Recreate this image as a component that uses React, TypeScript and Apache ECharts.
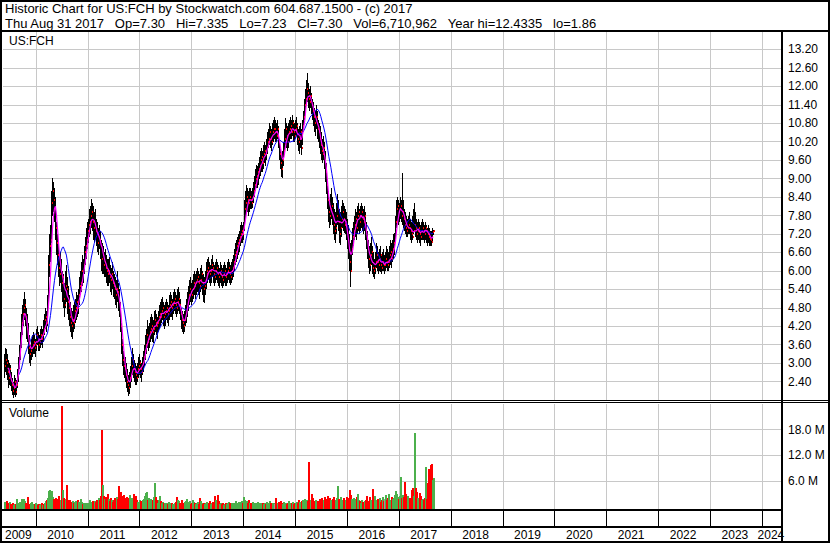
import React, { useEffect, useRef } from 'react';
import * as echarts from 'echarts';

// ---- data (weekly bars, last bar = Thu Aug 31 2017) ----
const lastBarDate = '2017-08-31';

const highs = [3.3,3.5,
3.45,3.3,3.1,3.0,2.95,2.7,2.5,2.4,2.6,2.5,
2.45,2.8,3.2,3.6,4.0,4.6,4.9,5.1,5.32,5.1,
4.8,4.6,4.3,3.9,3.6,3.8,3.9,4.0,3.9,3.8,
4.1,4.2,4.0,3.9,4.1,4.2,4.1,4.3,4.4,4.6,
4.8,4.7,5.2,6.5,7.2,7.5,8.6,9.02,8.9,8.7,
8.4,7.6,7.2,6.9,6.5,6.6,6.4,6.0,5.9,5.6,
6.0,6.2,5.8,5.5,5.2,5.0,4.8,4.7,4.9,5.0,
5.1,5.3,5.2,5.4,5.8,6.0,6.3,6.5,6.4,6.8,
7.1,7.4,7.6,7.7,8.0,8.1,8.34,8.2,8.1,7.9,
8.0,7.7,7.6,7.4,7.5,7.3,7.0,6.9,6.8,6.6,
6.7,6.5,6.4,6.4,6.45,6.2,6.1,6.3,6.0,5.9,
5.8,5.7,6.0,5.6,5.4,5.0,4.3,3.8,3.4,3.2,
3.2,3.0,2.8,2.6,2.7,2.9,3.2,3.5,3.3,3.1,
3.0,2.9,3.0,3.2,3.3,3.1,3.0,3.2,3.4,3.6,
3.9,4.1,4.4,4.2,4.3,4.5,4.6,4.5,4.4,4.7,
4.73,4.6,4.5,4.7,4.9,5.0,5.1,5.15,5.0,4.9,
5.0,5.1,5.0,4.9,5.2,5.3,5.2,5.1,5.3,5.4,
5.3,5.2,5.4,5.48,5.3,5.1,4.8,4.7,4.6,4.7,
4.9,5.1,5.3,5.5,5.7,5.8,5.6,5.7,5.9,6.0,
5.9,6.0,6.1,6.0,5.9,6.1,6.2,6.0,5.9,5.8,
6.0,6.2,6.3,6.4,6.45,6.3,6.2,6.4,6.5,6.3,
6.2,6.3,6.4,6.3,6.2,6.1,6.3,6.2,6.1,6.2,
6.3,6.2,6.1,6.3,6.4,6.3,6.2,6.3,6.4,6.5,
6.7,6.9,7.0,7.1,7.2,7.3,7.5,7.6,7.5,7.6,
8.3,8.6,8.8,8.7,8.6,8.7,8.7,8.6,8.7,8.9,
9.1,9.3,9.44,9.4,9.5,9.7,9.9,10.0,9.9,10.1,
10.2,10.1,10.3,10.5,10.6,10.8,10.7,10.6,10.8,10.9,
11.0,10.9,10.8,10.9,10.7,10.3,10.0,9.8,9.9,10.2,
10.6,10.97,10.8,10.7,10.8,10.9,11.0,10.9,11.07,10.9,
10.8,10.9,11.0,10.8,10.6,10.7,10.8,10.6,10.9,11.2,
11.6,11.9,12.2,12.43,12.1,11.9,12.0,11.8,11.6,11.5,
11.3,11.2,11.4,11.2,10.9,10.8,10.7,10.5,10.3,10.4,
10.2,9.9,9.5,9.0,8.6,8.3,8.5,8.7,8.4,8.2,
8.0,7.9,8.2,8.5,8.3,8.0,7.9,8.1,8.3,8.2,
8.1,8.0,7.9,7.7,7.5,7.2,6.9,7.0,7.4,7.6,
7.8,8.0,7.9,8.1,8.2,8.0,8.1,8.2,8.1,8.0,
8.1,7.9,7.6,7.3,7.0,6.8,6.9,7.1,6.8,6.6,
6.4,6.6,6.9,6.8,6.6,6.7,6.8,6.6,6.5,6.6,
6.7,6.5,6.6,6.8,6.7,6.6,6.8,7.0,6.9,7.0,
7.2,7.23,7.8,8.3,8.4,8.3,8.2,8.4,8.3,9.18,
8.3,8.0,7.9,7.8,7.7,7.8,7.9,7.7,7.6,7.8,
8.0,8.2,7.9,7.7,7.6,7.7,7.6,7.5,7.6,7.7,
7.6,7.5,7.6,7.5,7.4,7.5,7.4,7.3,7.3,7.4,7.335];

const lows = [2.5,2.7,
2.6,2.45,2.2,2.3,2.25,2.1,1.95,1.86,1.95,1.9,
1.95,2.2,2.4,2.8,3.1,3.5,3.9,4.2,4.4,4.2,
3.8,3.7,3.3,3.0,2.9,3.1,3.2,3.3,3.3,3.2,
3.4,3.6,3.4,3.4,3.5,3.6,3.5,3.7,3.8,3.9,
4.1,4.0,4.2,4.8,5.8,6.3,6.9,7.8,7.9,7.6,
7.0,6.5,6.2,5.8,5.5,5.6,5.3,5.0,4.8,4.5,
4.8,5.0,4.6,4.4,4.2,4.0,3.85,3.8,4.0,4.1,
4.3,4.4,4.5,4.6,4.9,5.2,5.3,5.5,5.6,5.9,
6.2,6.4,6.7,6.9,7.1,7.2,7.4,7.3,7.0,6.9,
7.0,6.8,6.6,6.5,6.7,6.4,6.0,5.9,5.9,5.8,
5.8,5.6,5.5,5.5,5.6,5.3,5.2,5.4,5.15,5.1,
4.9,4.8,5.0,4.7,4.5,4.0,3.3,2.9,2.6,2.5,
2.4,2.2,2.05,1.93,2.0,2.2,2.4,2.6,2.5,2.4,
2.3,2.3,2.4,2.5,2.6,2.5,2.4,2.6,2.7,2.9,
3.1,3.3,3.5,3.4,3.5,3.7,3.8,3.7,3.65,3.9,
4.0,3.9,3.8,4.0,4.1,4.2,4.3,4.4,4.2,4.1,
4.2,4.4,4.3,4.2,4.4,4.5,4.5,4.4,4.6,4.7,
4.6,4.5,4.6,4.7,4.6,4.4,4.1,4.0,3.95,4.0,
4.2,4.3,4.5,4.7,4.9,5.0,4.9,5.0,5.1,5.2,
5.1,5.2,5.3,5.2,5.1,5.3,5.4,5.2,5.0,4.95,
5.2,5.4,5.5,5.6,5.7,5.6,5.5,5.6,5.8,5.6,
5.5,5.6,5.7,5.6,5.5,5.45,5.6,5.5,5.44,5.5,
5.6,5.5,5.5,5.6,5.7,5.6,5.55,5.6,5.7,5.8,
6.0,6.2,6.3,6.4,6.5,6.6,6.8,6.9,6.9,7.0,
7.3,7.7,7.9,7.9,7.8,7.9,8.0,8.0,8.05,8.2,
8.4,8.6,8.7,8.7,8.8,9.0,9.1,9.2,9.2,9.3,
9.5,9.4,9.6,9.8,10.0,10.1,10.0,9.9,10.1,10.2,
10.3,10.2,10.2,10.3,10.0,9.6,9.3,9.05,9.02,9.4,
9.8,10.1,10.0,9.9,10.0,10.2,10.3,10.3,10.4,10.2,
10.2,10.3,10.4,10.1,9.9,9.8,10.0,9.77,10.1,10.5,
10.9,11.2,11.4,11.5,11.3,11.2,11.3,11.1,10.9,10.7,
10.5,10.4,10.6,10.3,10.2,10.0,9.8,9.6,9.5,9.6,
9.3,8.9,8.5,8.0,7.6,7.4,7.5,7.7,7.5,7.2,
7.0,6.9,7.2,7.5,7.3,6.9,6.84,7.1,7.4,7.3,
7.23,7.2,7.0,6.7,6.4,6.0,5.47,6.0,6.5,6.8,
7.0,7.1,7.0,7.2,7.3,7.2,7.3,7.4,7.3,7.2,
7.3,7.0,6.7,6.4,6.1,5.9,6.0,6.2,5.9,5.8,
5.73,5.9,6.1,6.0,5.9,6.0,6.1,5.95,5.9,6.0,
6.0,5.9,6.0,6.1,6.0,6.0,6.1,6.2,6.1,6.3,
6.4,6.5,6.9,7.4,7.6,7.5,7.6,7.7,7.6,7.5,
7.4,7.3,7.2,7.1,7.1,7.2,7.2,7.0,6.9,7.0,
7.2,7.3,7.1,7.0,6.9,7.0,6.9,6.8,7.0,7.0,
7.0,6.9,7.0,6.9,6.8,6.9,6.8,6.8,6.8,6.9,7.15];

const closes = [2.9,3.1,
3.0,2.7,2.5,2.8,2.45,2.3,2.1,2.2,2.4,2.05,
2.3,2.6,3.0,3.4,3.8,4.3,4.6,4.8,4.9,4.5,
4.1,3.9,3.5,3.3,3.4,3.5,3.6,3.7,3.5,3.6,
3.9,3.8,3.6,3.7,3.9,3.8,3.9,4.1,4.0,4.4,
4.5,4.3,4.9,6.2,6.8,7.0,8.2,8.6,8.3,8.0,
7.4,6.9,6.5,6.1,5.9,6.0,5.6,5.8,5.1,4.9,
5.5,5.4,5.0,4.8,4.5,4.3,4.2,4.4,4.3,4.7,
4.8,5.0,4.8,5.2,5.5,5.6,6.0,5.9,6.2,6.6,
6.8,7.0,7.3,7.5,7.6,7.8,7.9,7.6,7.4,7.5,
7.3,7.2,6.9,7.1,7.0,6.8,6.4,6.5,6.2,6.3,
6.1,6.0,5.9,6.0,5.8,5.7,5.9,5.6,5.5,5.4,
5.2,5.4,5.3,5.0,4.8,4.2,3.6,3.1,2.9,2.8,
2.6,2.4,2.3,2.2,2.5,2.6,2.9,3.1,2.8,2.7,
2.6,2.5,2.8,2.9,3.0,2.8,2.7,3.0,3.2,3.4,
3.6,3.9,3.7,3.8,4.0,4.1,4.2,4.0,4.1,4.4,
4.3,4.2,4.3,4.5,4.6,4.5,4.7,4.8,4.5,4.6,
4.7,4.8,4.6,4.7,4.9,5.0,4.8,4.9,5.0,5.1,
4.9,4.8,5.0,5.1,4.9,4.6,4.4,4.3,4.2,4.4,
4.6,4.8,5.0,5.2,5.4,5.3,5.2,5.4,5.6,5.5,
5.6,5.7,5.8,5.6,5.5,5.7,5.9,5.6,5.4,5.5,
5.7,5.9,6.0,6.1,6.0,5.9,6.0,6.2,6.1,5.9,
5.8,6.0,6.1,5.9,5.8,5.9,6.0,5.8,5.7,5.9,
6.0,5.8,5.9,6.0,6.1,5.9,5.8,6.0,6.1,6.3,
6.5,6.6,6.8,6.9,7.0,7.1,7.2,7.3,7.2,7.4,
8.0,8.2,8.4,8.3,8.2,8.4,8.3,8.2,8.4,8.6,
8.8,9.0,9.1,9.2,9.3,9.4,9.6,9.7,9.5,9.8,
9.9,9.8,10.0,10.2,10.3,10.5,10.3,10.2,10.5,10.6,
10.6,10.5,10.4,10.6,10.2,9.8,9.5,9.3,9.6,9.9,
10.3,10.6,10.4,10.2,10.5,10.6,10.7,10.5,10.8,10.5,
10.4,10.6,10.7,10.3,10.2,10.3,10.5,10.0,10.7,11.0,
11.4,11.6,11.9,11.8,11.6,11.5,11.7,11.4,11.2,11.0,
10.8,10.9,11.0,10.6,10.5,10.3,10.1,9.9,9.8,10.0,
9.6,9.2,8.8,8.3,7.9,7.8,8.0,8.1,7.8,7.5,
7.3,7.4,7.8,8.0,7.6,7.2,7.4,7.7,7.9,7.7,
7.5,7.6,7.3,7.0,6.7,6.3,6.0,6.7,7.1,7.3,
7.5,7.7,7.4,7.8,7.9,7.6,7.8,7.9,7.7,7.6,
7.8,7.3,7.0,6.7,6.4,6.2,6.5,6.6,6.1,6.0,
6.1,6.3,6.5,6.3,6.2,6.4,6.5,6.2,6.1,6.3,
6.2,6.2,6.4,6.3,6.2,6.3,6.5,6.6,6.4,6.7,
6.9,7.0,7.6,8.0,8.1,7.9,8.0,8.1,7.8,7.9,
7.7,7.5,7.4,7.3,7.4,7.5,7.4,7.3,7.2,7.1,
7.3,7.5,7.4,7.2,7.3,7.4,7.2,7.1,7.3,7.4,
7.3,7.2,7.4,7.3,7.2,7.1,7.05,7.0,6.95,7.25,7.30];

// weekly volume, millions of shares
const volumesM = [1.0,0.8,
1.2,0.8,0.6,1.0,0.5,0.4,0.7,0.3,0.6,0.5,
1.8,0.8,0.6,1.1,0.9,1.7,0.7,1.8,1.2,0.9,
0.6,2.2,0.5,0.4,0.7,1.0,0.6,0.4,0.5,0.9,
0.5,0.4,0.6,0.3,0.5,0.7,0.4,0.6,0.5,0.8,
1.2,1.5,2.0,3.5,3.8,2.5,3.6,2.2,1.8,1.5,
2.0,1.4,1.8,2.4,1.2,1.6,23.5,3.8,2.0,1.5,
1.8,4.9,1.4,1.2,1.6,1.1,0.9,1.3,0.8,1.0,
1.2,0.7,1.5,1.0,0.8,1.7,1.1,0.6,0.9,0.7,
0.5,0.9,0.6,0.8,1.4,1.0,0.7,1.2,0.9,1.3,
1.0,1.5,1.2,2.0,1.6,2.4,17.8,5.1,2.5,1.8,
2.2,1.5,3.0,1.8,1.2,2.0,1.4,1.1,1.6,1.9,
1.3,2.1,1.7,4.7,2.6,3.3,2.4,1.8,2.7,2.0,
1.8,2.3,1.5,2.0,2.6,1.4,1.9,1.6,2.8,1.2,
2.4,1.5,1.1,0.8,1.6,1.2,0.9,1.4,1.8,2.5,
3.2,3.4,1.5,2.0,1.2,1.8,1.0,1.4,2.2,5.6,
2.1,1.4,0.9,1.6,2.5,1.2,0.8,1.1,0.7,0.9,
0.6,0.8,0.5,1.0,0.7,0.6,0.9,0.5,0.4,0.8,
1.1,2.3,1.6,1.2,0.9,0.7,1.4,0.8,0.6,1.0,
1.3,1.7,1.0,0.8,1.2,0.6,0.9,1.5,1.1,0.7,
0.5,0.8,1.0,0.6,2.0,1.2,0.7,0.5,0.9,0.6,
0.8,1.1,0.7,0.5,0.9,1.3,0.6,0.8,1.0,0.7,
2.5,1.4,0.9,2.6,1.2,0.6,0.8,0.5,0.7,0.4,
0.6,0.9,0.5,0.7,1.0,0.8,0.6,0.9,0.5,0.7,
0.8,1.2,0.9,0.6,1.1,0.7,1.0,1.3,0.8,2.2,
1.5,1.0,1.2,0.8,1.4,0.9,0.7,0.6,1.0,0.8,
0.5,0.9,0.7,1.1,0.6,0.8,0.5,0.7,0.9,0.6,
0.8,0.6,1.0,0.7,0.5,1.2,0.8,0.6,0.9,0.7,
0.6,2.0,0.9,0.7,1.1,0.8,1.3,0.9,0.6,1.0,
0.7,0.9,0.6,0.8,1.2,0.7,0.5,0.9,1.0,0.6,
0.8,0.7,1.1,0.9,1.4,1.0,0.8,1.2,1.6,1.1,
1.8,1.3,1.5,1.2,10.4,1.6,1.4,2.8,1.9,1.2,
1.0,1.5,0.9,1.3,1.1,1.8,1.4,2.0,1.2,1.6,
2.2,1.5,1.8,2.4,1.3,2.0,1.4,1.1,1.7,2.1,
1.2,1.6,2.0,4.7,1.8,1.4,2.2,1.5,1.3,1.9,
1.1,1.6,2.3,1.5,2.0,3.8,2.6,1.8,1.4,2.0,
1.7,1.3,2.2,2.8,1.5,1.2,0.9,1.4,1.1,0.8,
1.2,1.5,2.4,1.3,1.0,2.2,1.6,1.2,4.0,2.0,
2.4,1.5,1.1,1.8,1.2,2.0,1.4,1.0,1.6,2.2,
1.3,1.8,2.6,1.4,2.0,2.8,1.5,1.2,2.3,1.7,
2.0,2.6,3.6,2.8,2.2,1.8,2.4,6.8,1.9,2.6,
2.2,5.8,3.0,1.8,2.5,1.5,2.0,1.2,3.8,4.3,
2.5,17.1,4.2,3.4,2.0,1.6,3.2,2.4,1.5,1.8,
1.5,2.0,9.3,1.8,5.4,8.8,3.5,9.8,10.0,6.3,6.7];

const yearLines = [2010,2011,2012,2013,2014,2015,2016,2017,2018,2019,2020,2021,2022,2023,2024];
const yearLabels = [2009,2010,2011,2012,2013,2014,2015,2016,2017,2018,2019,2020,2021,2022,2023,2024];

const titleLine1 = 'Historic Chart for US:FCH by Stockwatch.com 604.687.1500 - (c) 2017';
const titleFields = ['Thu Aug 31 2017', 'Op=7.30', 'Hi=7.335', 'Lo=7.23', 'Cl=7.30', 'Vol=6,710,962', 'Year hi=12.4335', 'lo=1.86'];
const symbolLabel = 'US:FCH';
const volumeLabel = 'Volume';

const FAST_MA = 5;
const SLOW_MA = 16;

// ---- helpers ----
const FONT = '"Liberation Sans", Arial, sans-serif';
const X_MIN = 2009.37;
const X_MAX = 2024.388;

function toDecYear(t: number): number {
  const d = new Date(t);
  const y = d.getUTCFullYear();
  const s = Date.UTC(y, 0, 1);
  const e = Date.UTC(y + 1, 0, 1);
  return y + (t - s) / (e - s);
}

function sma(vals: number[], n: number): (number | null)[] {
  const out: (number | null)[] = [];
  let sum = 0;
  for (let i = 0; i < vals.length; i++) {
    sum += vals[i];
    if (i >= n) sum -= vals[i - n];
    out.push(i >= n - 1 ? sum / n : null);
  }
  return out;
}

function buildOption() {
  const N = Math.min(highs.length, lows.length, closes.length, volumesM.length);
  const last = Date.parse(lastBarDate + 'T00:00:00Z');
  const times: number[] = [];
  for (let i = 0; i < N; i++) times.push(toDecYear(last - (N - 1 - i) * 7 * 86400000));

  const ohlc = times.map((t, i) => [t, highs[i], lows[i], closes[i]]);
  const cl = closes.slice(0, N);
  const fast = sma(cl, FAST_MA).map((v, i) => [times[i], v]);
  const slow = sma(cl, SLOW_MA).map((v, i) => [times[i], v]);
  const vol = times.map((t, i) => {
    const dir = i === 0 ? 1 : Math.sign(closes[i] - closes[i - 1]);
    return [t, volumesM[i], dir];
  });

  const xAxisBase = (gridIndex: number) => ({
    type: 'value', gridIndex, min: X_MIN, max: X_MAX, show: false,
    splitLine: { show: false },
  });

  const vLine = (color: string, extendBottom: number) => (params: any, api: any) => {
    const cs = params.coordSys;
    const x = Math.round(api.coord([api.value(0), api.value(1)])[0]) + 0.5;
    return {
      type: 'line',
      shape: { x1: x, y1: cs.y, x2: x, y2: cs.y + cs.height + extendBottom },
      style: { stroke: color, lineWidth: 1 },
    };
  };

  const graphicText = (text: string, x: number, y: number, size: number) => ({
    type: 'text', x, y, z: 100,
    style: { text, fill: '#000', fontSize: size, fontFamily: FONT, verticalAlign: 'middle', align: 'left' },
  });
  const blackRect = (x: number, y: number, w: number, h: number) => ({
    type: 'rect', z: 100, shape: { x, y, width: w, height: h }, style: { fill: '#000' },
  });

  const sep = '\u00a0\u00a0\u00a0';

  return {
    animation: false,
    backgroundColor: '#fff',
    grid: [
      { left: 3, top: 31, width: 779, height: 369 },
      { left: 3, top: 404, width: 779, height: 102.4 },
      { left: 3, top: 511, width: 779, height: 15 },
      { left: 3, top: 528, width: 779, height: 13 },
    ],
    xAxis: [xAxisBase(0), xAxisBase(1), xAxisBase(2), xAxisBase(3)],
    yAxis: [
      {
        type: 'value', gridIndex: 0, position: 'right', min: 1.8, max: 13.8, interval: 0.6,
        axisLine: { show: false }, axisTick: { show: false },
        splitLine: { show: true, showMinLine: false, showMaxLine: false, lineStyle: { color: '#c8c8c8', width: 1 } },
        axisLabel: {
          showMinLabel: false, showMaxLabel: false, margin: 6, color: '#000',
          fontSize: 12, fontFamily: FONT,
          formatter: (v: number) => v.toFixed(2),
        },
      },
      {
        type: 'value', gridIndex: 1, position: 'right', min: 0, max: 24, interval: 6,
        axisLine: { show: false }, axisTick: { show: false },
        splitLine: { show: true, showMinLine: false, showMaxLine: false, lineStyle: { color: '#c8c8c8', width: 1 } },
        axisLabel: {
          showMinLabel: false, showMaxLabel: false, margin: 6, color: '#000',
          fontSize: 12, fontFamily: FONT,
          formatter: (v: number) => v.toFixed(1) + ' M',
        },
      },
      { type: 'value', gridIndex: 2, min: 0, max: 1, show: false, splitLine: { show: false } },
      { type: 'value', gridIndex: 3, min: 0, max: 1, show: false, splitLine: { show: false } },
    ],
    series: [
      {
        type: 'custom', name: 'priceYearLines', xAxisIndex: 0, yAxisIndex: 0, silent: true, z: 1,
        data: yearLines.map((y) => [y, 5]), renderItem: vLine('#c8c8c8', 0),
      },
      {
        type: 'custom', name: 'volYearLines', xAxisIndex: 1, yAxisIndex: 1, silent: true, z: 1,
        data: yearLines.map((y) => [y, 1]), renderItem: vLine('#c8c8c8', 3),
      },
      {
        type: 'custom', name: 'stripLines', xAxisIndex: 2, yAxisIndex: 2, silent: true, z: 1,
        data: yearLines.map((y) => [y, 0.5]), renderItem: vLine('#000', 0),
      },
      {
        type: 'custom', name: 'yearLabels', xAxisIndex: 3, yAxisIndex: 3, silent: true,
        data: yearLabels.map((y) => [y, 0.5]),
        renderItem: (params: any, api: any) => {
          const cs = params.coordSys;
          const yr = api.value(0);
          const a = Math.max(api.coord([yr, 0.5])[0], cs.x);
          const b = Math.min(api.coord([yr + 1, 0.5])[0], cs.x + cs.width);
          return {
            type: 'text',
            x: (a + b) / 2 - 1,
            y: cs.y + cs.height / 2 + 0.5,
            style: { text: String(yr), fill: '#000', fontSize: 12, fontFamily: FONT, align: 'center', verticalAlign: 'middle' },
          };
        },
      },
      {
        type: 'custom', name: 'ohlc', xAxisIndex: 0, yAxisIndex: 0, silent: true, z: 3,
        encode: { x: 0, y: [1, 2, 3] },
        data: ohlc,
        renderItem: (params: any, api: any) => {
          const t = api.value(0);
          const h = api.coord([t, api.value(1)]);
          const l = api.coord([t, api.value(2)]);
          const px = Math.round(h[0]);
          const top = Math.round(h[1]);
          return {
            type: 'rect',
            shape: { x: px, y: top, width: 1, height: Math.max(1, Math.round(l[1]) - top) },
            style: { fill: '#000' },
          };
        },
      },
      {
        type: 'custom', name: 'closeTicks', xAxisIndex: 0, yAxisIndex: 0, silent: true, z: 3,
        encode: { x: 0, y: 3 },
        data: ohlc,
        renderItem: (params: any, api: any) => {
          const t = api.value(0);
          const c = api.coord([t, api.value(3)]);
          const n = api.coord([t, api.value(1)]);
          const px = Math.round(n[0]);
          return {
            type: 'rect',
            shape: { x: px + 1, y: Math.round(c[1]) - 1, width: 1, height: 2 },
            style: { fill: '#ff0000' },
          };
        },
      },
      {
        type: 'line', name: 'slowMA', xAxisIndex: 0, yAxisIndex: 0, data: slow, showSymbol: false, silent: true, z: 4,
        lineStyle: { color: '#0000ff', width: 1 }, connectNulls: false,
      },
      {
        type: 'line', name: 'fastMA', xAxisIndex: 0, yAxisIndex: 0, data: fast, showSymbol: false, silent: true, z: 5,
        lineStyle: { color: '#ff00ff', width: 1.2 }, connectNulls: false,
      },
      {
        type: 'custom', name: 'volume', xAxisIndex: 1, yAxisIndex: 1, silent: true, z: 3,
        encode: { x: 0, y: 1 },
        data: vol,
        renderItem: (params: any, api: any) => {
          const cs = params.coordSys;
          const top = api.coord([api.value(0), api.value(1)]);
          const dir = api.value(2);
          const bottom = cs.y + cs.height + 2.6;
          const color = dir > 0 ? '#4cb04c' : dir < 0 ? '#ff0000' : '#9a9a9a';
          const y0 = Math.round(top[1]);
          return {
            type: 'rect',
            shape: { x: Math.round(top[0]), y: y0, width: 2, height: Math.max(1, bottom - y0) },
            style: { fill: color },
          };
        },
      },
    ],
    graphic: [
      { type: 'rect', z: 100, shape: { x: 1, y: 1, width: 828, height: 541 }, style: { fill: 'none', stroke: '#000', lineWidth: 2 } },
      blackRect(0, 30, 830, 2),
      blackRect(781, 31, 2, 511),
      blackRect(0, 400, 830, 1),
      blackRect(0, 402, 830, 1),
      blackRect(0, 509, 782, 2),
      blackRect(0, 526, 782, 2),
      graphicText(titleLine1, 5, 8, 13),
      graphicText(titleFields.join(sep), 5, 23, 13),
      graphicText(symbolLabel, 9, 41, 12),
      graphicText(volumeLabel, 9, 413, 12),
    ],
  };
}

export default function App() {
  const ref = useRef<HTMLDivElement>(null);
  useEffect(() => {
    if (!ref.current) return;
    const chart = echarts.init(ref.current, null, { renderer: 'svg' });
    chart.setOption(buildOption() as any);
    return () => chart.dispose();
  }, []);
  return (
    <div
      ref={ref}
      style={{ position: 'fixed', left: 0, top: 0, width: 830, height: 543, background: '#fff' }}
    />
  );
}
